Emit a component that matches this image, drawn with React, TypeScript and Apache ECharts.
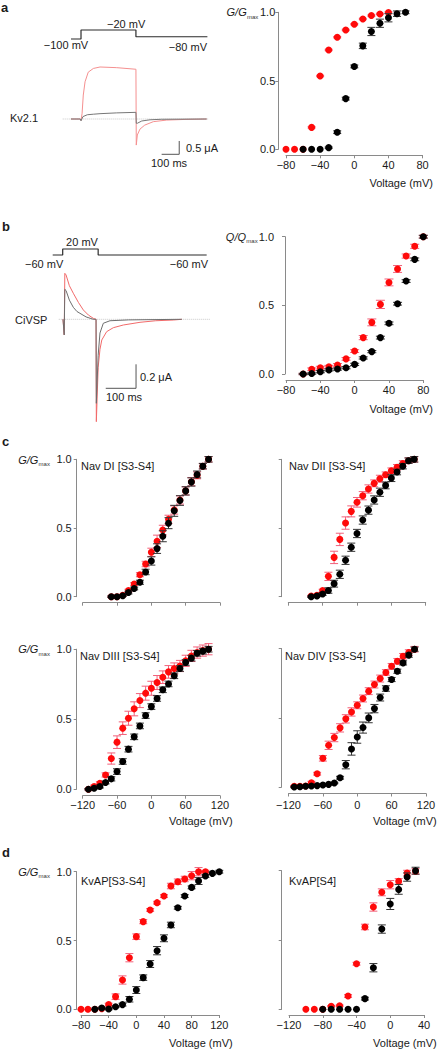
import React, { useEffect, useRef } from "react";
import * as echarts from "echarts";

// ---------- DATA ----------
// Panel a: Kv2.1 G/Gmax
const aRedV = [-80, -70, -60, -50, -40, -30, -20, -10, 0, 10, 20, 30, 40];
const aRedY = [0, 0, 0, 0.16, 0.535, 0.725, 0.818, 0.871, 0.913, 0.951, 0.976, 0.988, 0.998];
const aRedE = [0, 0, 0, 0.005, 0.005, 0.005, 0.005, 0.005, 0.005, 0.005, 0.005, 0.005, 0.005];
const aBlkV = [-60, -50, -40, -30, -20, -10, 0, 10, 20, 30, 40, 50, 60];
const aBlkY = [0, 0, 0, 0.012, 0.125, 0.37, 0.605, 0.755, 0.86, 0.92, 0.96, 0.99, 1.0];
const aBlkE = [0, 0, 0, 0.005, 0.01, 0.01, 0.01, 0.02, 0.03, 0.03, 0.03, 0.02, 0.01];

// Panel b: CiVSP Q/Qmax
const bV = [-60, -50, -40, -30, -20, -10, 0, 10, 20, 30, 40, 50, 60, 70, 80];
const bRedY = [0, 0.034, 0.046, 0.053, 0.066, 0.11, 0.167, 0.265, 0.376, 0.507, 0.667, 0.765, 0.859, 0.93, 1.0];
const bRedE = [0.005, 0.01, 0.01, 0.01, 0.01, 0.01, 0.01, 0.015, 0.025, 0.03, 0.025, 0.025, 0.015, 0.015, 0.01];
const bBlkY = [0, 0.003, 0.017, 0.03, 0.036, 0.046, 0.07, 0.117, 0.163, 0.265, 0.369, 0.512, 0.677, 0.835, 1.0];
const bBlkE = [0.005, 0.005, 0.008, 0.008, 0.008, 0.008, 0.008, 0.008, 0.008, 0.01, 0.01, 0.01, 0.01, 0.01, 0.01];

// Panel c1: Nav DI
const c1V = [-70, -60, -50, -40, -30, -20, -10, 0, 10, 20, 30, 40, 50, 60, 70, 80, 90, 100];
const c1RedY = [0, 0, 0.01, 0.044, 0.092, 0.16, 0.238, 0.323, 0.403, 0.485, 0.563, 0.631, 0.704, 0.77, 0.837, 0.883, 0.95, 1.0];
const c1RedE = [0.005, 0.005, 0.005, 0.01, 0.01, 0.015, 0.02, 0.03, 0.045, 0.035, 0.03, 0.03, 0.03, 0.03, 0.03, 0.025, 0.02, 0.02];
const c1BlkY = [0, 0, 0.007, 0.03, 0.06, 0.105, 0.18, 0.26, 0.35, 0.44, 0.535, 0.625, 0.7, 0.77, 0.835, 0.89, 0.95, 1.0];
const c1BlkE = [0.005, 0.005, 0.005, 0.01, 0.01, 0.015, 0.02, 0.03, 0.035, 0.04, 0.04, 0.04, 0.035, 0.03, 0.03, 0.025, 0.02, 0.02];

// Panel c2: Nav DII
const c2V = [-80, -70, -60, -50, -40, -30, -20, -10, 0, 10, 20, 30, 40, 50, 60, 70, 80, 90, 100];
const c2RedY = [0.005, 0.01, 0.044, 0.148, 0.286, 0.417, 0.536, 0.621, 0.687, 0.735, 0.784, 0.825, 0.859, 0.888, 0.917, 0.942, 0.97, 0.99, 1.0];
const c2RedE = [0.005, 0.005, 0.01, 0.03, 0.045, 0.045, 0.045, 0.04, 0.035, 0.03, 0.03, 0.025, 0.025, 0.02, 0.02, 0.02, 0.02, 0.02, 0.02];
const c2BlkY = [0, 0.005, 0.02, 0.045, 0.095, 0.163, 0.265, 0.36, 0.46, 0.558, 0.63, 0.704, 0.76, 0.81, 0.863, 0.907, 0.95, 0.99, 1.0];
const c2BlkE = [0.005, 0.005, 0.01, 0.02, 0.025, 0.03, 0.03, 0.03, 0.03, 0.03, 0.03, 0.03, 0.03, 0.025, 0.025, 0.02, 0.02, 0.02, 0.02];

// Panel c3: Nav DIII
const c3V = [-110, -100, -90, -80, -70, -60, -50, -40, -30, -20, -10, 0, 10, 20, 30, 40, 50, 60, 70, 80, 90, 100];
const c3RedY = [0, 0.019, 0.043, 0.102, 0.219, 0.336, 0.436, 0.507, 0.574, 0.633, 0.686, 0.721, 0.762, 0.8, 0.838, 0.862, 0.88, 0.917, 0.952, 0.976, 0.99, 1.0];
const c3RedE = [0.005, 0.01, 0.01, 0.015, 0.04, 0.045, 0.045, 0.05, 0.05, 0.05, 0.05, 0.05, 0.05, 0.045, 0.045, 0.04, 0.04, 0.04, 0.04, 0.04, 0.04, 0.04];
const c3BlkY = [0, 0.007, 0.019, 0.048, 0.074, 0.126, 0.198, 0.286, 0.374, 0.452, 0.526, 0.59, 0.648, 0.71, 0.752, 0.81, 0.862, 0.905, 0.936, 0.971, 0.986, 1.0];
const c3BlkE = [0.005, 0.005, 0.01, 0.01, 0.015, 0.02, 0.02, 0.02, 0.02, 0.02, 0.02, 0.02, 0.02, 0.02, 0.02, 0.02, 0.02, 0.02, 0.02, 0.02, 0.02, 0.02];

// Panel c4: Nav DIV
const c4V = [-110, -100, -90, -80, -70, -60, -50, -40, -30, -20, -10, 0, 10, 20, 30, 40, 50, 60, 70, 80, 90, 100];
const c4RedY = [0.005, 0.005, 0.007, 0.031, 0.096, 0.207, 0.301, 0.357, 0.427, 0.492, 0.542, 0.59, 0.639, 0.692, 0.74, 0.783, 0.827, 0.872, 0.908, 0.944, 0.971, 0.995];
const c4RedE = [0.005, 0.005, 0.005, 0.01, 0.01, 0.02, 0.03, 0.03, 0.03, 0.03, 0.03, 0.025, 0.025, 0.025, 0.025, 0.025, 0.02, 0.02, 0.02, 0.02, 0.02, 0.02];
const c4BlkY = [0, 0.002, 0.005, 0.007, 0.01, 0.014, 0.019, 0.029, 0.067, 0.161, 0.275, 0.361, 0.429, 0.499, 0.566, 0.646, 0.711, 0.776, 0.836, 0.896, 0.952, 0.995];
const c4BlkE = [0.005, 0.005, 0.005, 0.005, 0.005, 0.005, 0.005, 0.005, 0.01, 0.03, 0.045, 0.045, 0.04, 0.035, 0.03, 0.025, 0.02, 0.015, 0.015, 0.015, 0.015, 0.015];

// Panel d1: KvAP[S3-S4]
const d1RedV = [-80, -70, -60, -50, -40, -30, -20, -10, 0, 10, 20, 30, 40, 50, 60, 70, 80, 90, 100];
const d1RedY = [0, 0, 0, 0.005, 0.034, 0.092, 0.213, 0.375, 0.528, 0.637, 0.722, 0.775, 0.823, 0.896, 0.927, 0.947, 0.971, 1.0, 1.0];
const d1RedE = [0, 0, 0, 0, 0.01, 0.02, 0.03, 0.03, 0.02, 0.015, 0.01, 0.01, 0.01, 0.02, 0.02, 0.02, 0.03, 0.03, 0.01];
const d1BlkV = [-60, -50, -40, -30, -20, -10, 0, 10, 20, 30, 40, 50, 60, 70, 80, 90, 100, 110, 120];
const d1BlkY = [0, 0.01, 0.002, 0.019, 0.034, 0.073, 0.14, 0.23, 0.329, 0.426, 0.516, 0.613, 0.738, 0.823, 0.886, 0.932, 0.969, 0.988, 1.0];
const d1BlkE = [0, 0.005, 0.005, 0.005, 0.01, 0.02, 0.025, 0.02, 0.025, 0.03, 0.025, 0.02, 0.01, 0.01, 0.01, 0.025, 0.01, 0.01, 0.01];

// Panel d2: KvAP[S4]
const d2RedV = [-100, -90, -80, -70, -60, -50, -40, -30, -20, -10, 0, 10, 20, 30];
const d2RedY = [0, 0, 0, 0.022, 0.026, 0.096, 0.329, 0.594, 0.738, 0.844, 0.899, 0.923, 0.983, 0.995];
const d2RedE = [0, 0, 0, 0.005, 0.005, 0.01, 0.01, 0.02, 0.03, 0.025, 0.03, 0.02, 0.02, 0.02];
const d2BlkV = [-80, -70, -60, -50, -40, -30, -20, -10, 0, 10, 20, 30];
const d2BlkY = [0, 0, 0, 0, 0, 0.077, 0.3, 0.579, 0.76, 0.865, 0.954, 1.0];
const d2BlkE = [0, 0, 0, 0, 0, 0.01, 0.03, 0.03, 0.04, 0.035, 0.03, 0.025];

// Traces, panel a (time ms, voltage mV / current µA)
const aProtoT = [47, 104, 104, 416, 416, 822];
const aProtoV = [-100, -100, -20, -20, -80, -80];
const aRedT = [47, 100, 104, 110, 117, 127, 145, 174, 212, 307, 416, 418, 424, 439, 466, 515, 591, 700, 818];
const aRedI = [0, 0, -0.05, 0.2, 0.9, 1.4, 1.76, 1.9, 1.955, 1.93, 1.87, -0.98, -0.6, -0.38, -0.23, -0.1, -0.04, -0.015, 0];
const aBlkT = [47, 100, 104, 115, 140, 174, 212, 307, 416, 418, 424, 449, 496, 560, 818];
const aBlkI = [0, 0, -0.07, 0.09, 0.16, 0.18, 0.2, 0.23, 0.25, -0.16, -0.16, -0.075, -0.03, -0.01, 0];
const aBaseT = [0, 830];
const aBarT = [562, 662, 662];
const aBarI = [-1.327, -1.327, -0.827];

// Traces, panel b
const bProtoT = [0, 33, 33, 150, 150, 508];
const bProtoV = [-60, -60, 20, 20, -60, -60];
const bRedT = [34, 36, 38, 40, 44, 55, 68, 85, 101, 118, 134, 143, 144, 150, 156, 162, 178, 200, 233, 288, 340, 398, 426];
const bRedI = [0, 0, -0.13, 0.383, 0.37, 0.28, 0.217, 0.14, 0.078, 0.035, 0.008, 0, -0.853, -0.4, -0.25, -0.172, -0.103, -0.07, -0.0475, -0.025, -0.012, -0.006, 0];
const bBlkT = [34, 36, 38, 40, 44, 55, 68, 80, 90, 110, 134, 143, 144, 150, 156, 167, 189, 250, 426];
const bBlkI = [0, 0, -0.13, 0.25, 0.24, 0.16, 0.1, 0.065, 0.05, 0.02, 0, 0, -0.7, -0.3, -0.114, -0.033, -0.012, -0.005, 0];
const bBaseT = [20, 520];
const bBarT = [175, 275, 275];
const bBarI = [-0.575, -0.575, -0.375];

// ---------- STYLE ----------
const RED = "#ff0a0a";
const RED_ERR = "#f2607a";
const BLK = "#000000";
const BLK_ERR = "#333333";
const AXIS = "#8a8a8a";
const TXT = "#1a1a1a";
const FF = '"Liberation Sans", Arial, Helvetica, sans-serif';

const pairs = (x: number[], y: number[]) => x.map((v, i) => [v, y[i]]);
const triples = (x: number[], y: number[], e: number[]) => x.map((v, i) => [v, y[i], e[i]]);
const minus = (v: number) => (v < 0 ? "\u2212" + Math.abs(v) : String(v));

export default function App() {
  const ref = useRef<HTMLDivElement>(null);

  useEffect(() => {
    if (!ref.current) return;
    const chart = echarts.init(ref.current, undefined, { renderer: "svg" });

    type Plot = {
      rect: [number, number, number, number];
      xr: [number, number, number];
      xOff: number;
      xLab: boolean;
      xMargin: number;
      yOff: number;
      yLab: boolean;
      yMargin: number;
      red: [number[], number[], number[]];
      blk: [number[], number[], number[]];
      cap: number;
    };

    const plots: Plot[] = [
      { rect: [286, 12.3, 136.6, 137], xr: [-80, 80, 40], xOff: 6, xLab: true, xMargin: 4, yOff: 7.7, yLab: true, yMargin: 3,
        red: [aRedV, aRedY, aRedE], blk: [aBlkV, aBlkY, aBlkE], cap: 4 },
      { rect: [286, 236.7, 137.3, 137.3], xr: [-80, 80, 40], xOff: 6, xLab: true, xMargin: 4, yOff: 1, yLab: true, yMargin: 11,
        red: [bV, bRedY, bRedE], blk: [bV, bBlkY, bBlkE], cap: 4.5 },
      { rect: [82.7, 459.3, 137.3, 137.4], xr: [-120, 120, 60], xOff: 6, xLab: false, xMargin: 4, yOff: 6, yLab: true, yMargin: 5,
        red: [c1V, c1RedY, c1RedE], blk: [c1V, c1BlkY, c1BlkE], cap: 4 },
      { rect: [288.3, 459.3, 137.4, 137.4], xr: [-120, 120, 60], xOff: 6, xLab: false, xMargin: 4, yOff: 6.6, yLab: false, yMargin: 5,
        red: [c2V, c2RedY, c2RedE], blk: [c2V, c2BlkY, c2BlkE], cap: 4 },
      { rect: [82.7, 649.2, 137.3, 140], xr: [-120, 120, 60], xOff: 6.5, xLab: true, xMargin: 4, yOff: 6, yLab: true, yMargin: 5,
        red: [c3V, c3RedY, c3RedE], blk: [c3V, c3BlkY, c3BlkE], cap: 4 },
      { rect: [288.5, 648.5, 137.5, 138.5], xr: [-120, 120, 60], xOff: 6.5, xLab: true, xMargin: 6, yOff: 6.8, yLab: false, yMargin: 5,
        red: [c4V, c4RedY, c4RedE], blk: [c4V, c4BlkY, c4BlkE], cap: 4 },
      { rect: [81, 871.7, 138.3, 137.6], xr: [-80, 120, 40], xOff: 5.7, xLab: true, xMargin: 4.5, yOff: 4.3, yLab: true, yMargin: 5,
        red: [d1RedV, d1RedY, d1RedE], blk: [d1BlkV, d1BlkY, d1BlkE], cap: 4 },
      { rect: [289, 870.7, 135, 138.6], xr: [-120, 40, 40], xOff: 5.7, xLab: true, xMargin: 4.5, yOff: 7.3, yLab: false, yMargin: 5,
        red: [d2RedV, d2RedY, d2RedE], blk: [d2BlkV, d2BlkY, d2BlkE], cap: 4 },
    ];

    const grids: any[] = [];
    const xAxes: any[] = [];
    const yAxes: any[] = [];
    const series: any[] = [];

    const errRender = (color: string, cap: number) => (params: any, api: any) => {
      const x = api.value(0);
      const y = api.value(1);
      const e = api.value(2);
      if (!e) return { type: "group", children: [] };
      const t = api.coord([x, y + e]);
      const b = api.coord([x, y - e]);
      const st = { stroke: color, lineWidth: 1 };
      return {
        type: "group",
        children: [
          { type: "line", shape: { x1: t[0], y1: t[1], x2: b[0], y2: b[1] }, style: st },
          { type: "line", shape: { x1: t[0] - cap, y1: t[1], x2: t[0] + cap, y2: t[1] }, style: st },
          { type: "line", shape: { x1: b[0] - cap, y1: b[1], x2: b[0] + cap, y2: b[1] }, style: st },
        ],
      };
    };

    plots.forEach((p, i) => {
      grids.push({ left: p.rect[0], top: p.rect[1], width: p.rect[2], height: p.rect[3], containLabel: false });
      xAxes.push({
        type: "value", gridIndex: i, min: p.xr[0], max: p.xr[1], interval: p.xr[2], offset: p.xOff,
        axisLine: { show: true, onZero: false, lineStyle: { color: AXIS, width: 1 } },
        axisTick: { show: true, length: 3, lineStyle: { color: AXIS, width: 1 } },
        axisLabel: { show: p.xLab, margin: p.xMargin, color: TXT, fontSize: 11, fontFamily: FF, formatter: minus },
        splitLine: { show: false },
      });
      yAxes.push({
        type: "value", gridIndex: i, min: 0, max: 1, interval: 0.5, offset: p.yOff,
        axisLine: { show: true, onZero: false, lineStyle: { color: AXIS, width: 1 } },
        axisTick: { show: true, length: 3, lineStyle: { color: AXIS, width: 1 } },
        axisLabel: { show: p.yLab, margin: p.yMargin, color: TXT, fontSize: 11, fontFamily: FF, formatter: (v: number) => v.toFixed(1) },
        splitLine: { show: false },
      });
      series.push({
        type: "custom", xAxisIndex: i, yAxisIndex: i, renderItem: errRender(RED_ERR, p.cap),
        data: triples(p.red[0], p.red[1], p.red[2]), encode: { x: 0, y: 1 }, z: 2, silent: true,
      });
      series.push({
        type: "scatter", xAxisIndex: i, yAxisIndex: i, symbol: "circle", symbolSize: 7,
        itemStyle: { color: RED, opacity: 1 }, data: pairs(p.red[0], p.red[1]), z: 3, clip: false,
      });
      series.push({
        type: "custom", xAxisIndex: i, yAxisIndex: i, renderItem: errRender(BLK_ERR, p.cap),
        data: triples(p.blk[0], p.blk[1], p.blk[2]), encode: { x: 0, y: 1 }, z: 4, silent: true,
      });
      series.push({
        type: "scatter", xAxisIndex: i, yAxisIndex: i, symbol: "circle", symbolSize: 7,
        itemStyle: { color: BLK, opacity: 1 }, data: pairs(p.blk[0], p.blk[1]), z: 5, clip: false,
      });
    });

    // trace grids
    const hiddenX = (gi: number, min: number, max: number) => ({ type: "value", gridIndex: gi, min, max, show: false, splitLine: { show: false } });
    const hiddenY = (gi: number, min: number, max: number) => ({ type: "value", gridIndex: gi, min, max, show: false, splitLine: { show: false } });
    const lineS = (gi: number, data: number[][], color: string, width: number, type: string = "solid", z = 3) => ({
      type: "line", xAxisIndex: gi, yAxisIndex: gi, data, showSymbol: false, symbol: "none", clip: false,
      lineStyle: { color, width, type }, z, silent: true, animation: false,
    });

    // a protocol
    let gi = grids.length;
    grids.push({ left: 62.7, top: 30, width: 146.1, height: 9 });
    xAxes.push(hiddenX(gi, 0, 830));
    yAxes.push(hiddenY(gi, -100, -20));
    series.push(lineS(gi, pairs(aProtoT, aProtoV), "#2b2b2b", 1.2));
    // a current
    gi = grids.length;
    grids.push({ left: 62.7, top: 52.5, width: 146.1, height: 106.4 });
    xAxes.push(hiddenX(gi, 0, 830));
    yAxes.push(hiddenY(gi, -1.5, 2.5));
    series.push(lineS(gi, pairs(aBaseT, [0, 0]), "#c8c8c8", 1, "dotted", 1));
    series.push(lineS(gi, pairs(aBlkT, aBlkI), "#777777", 1, "solid", 3));
    series.push(lineS(gi, pairs(aRedT, aRedI), "#f59090", 1, "solid", 2));
    series.push(lineS(gi, pairs(aBarT, aBarI), "#555555", 1));

    // b protocol
    gi = grids.length;
    grids.push({ left: 52.7, top: 249, width: 157.6, height: 6 });
    xAxes.push(hiddenX(gi, 0, 520));
    yAxes.push(hiddenY(gi, -60, 20));
    series.push(lineS(gi, pairs(bProtoT, bProtoV), "#2b2b2b", 1.2));
    // b current
    gi = grids.length;
    grids.push({ left: 52.7, top: 259.3, width: 157.6, height: 180 });
    xAxes.push(hiddenX(gi, 0, 520));
    yAxes.push(hiddenY(gi, -1.0, 0.5));
    series.push(lineS(gi, pairs(bBaseT, [0, 0]), "#c8c8c8", 1, "dotted", 1));
    series.push(lineS(gi, pairs(bRedT, bRedI), "#f26a6a", 1, "solid", 2));
    series.push(lineS(gi, pairs(bBlkT, bBlkI), "#6e6e6e", 1, "solid", 3));
    series.push(lineS(gi, pairs(bBarT, bBarI), "#555555", 1));

    const font = (size: number, extra = "") => `${extra}${size}px ${FF}`;
    const txt = (text: string, x: number, y: number, align = "left", size = 11, extra = "", fill = TXT) => ({
      type: "text", x, y, silent: true,
      style: { text, font: font(size, extra), fill, align, verticalAlign: "middle" },
    });
    const gmax = (main: string, xr: number, y: number) => [
      txt(main, xr, y, "right", 11, "italic "),
      txt("max", xr + 0.3, y + 4.5, "left", 6, "", "#333"),
    ];

    const graphics: any[] = [
      txt("a", 1, 7.5, "left", 13, "bold "),
      txt("b", 2, 226.7, "left", 13, "bold "),
      txt("c", 2, 441.5, "left", 13, "bold "),
      txt("d", 2, 852, "left", 13, "bold "),
      // panel a
      txt("\u221220 mV", 107, 24),
      txt("\u2212100 mV", 66, 45, "center"),
      txt("\u221280 mV", 207, 46.5, "right"),
      txt("Kv2.1", 10, 118),
      txt("0.5 \u03bcA", 186, 147.5),
      txt("100 ms", 151, 163),
      ...gmax("G/G", 246.7, 12.3),
      txt("Voltage (mV)", 433, 183.3, "right"),
      // panel b
      txt("20 mV", 82, 242, "center"),
      txt("\u221260 mV", 25, 264),
      txt("\u221260 mV", 208, 264, "right"),
      txt("CiVSP", 15, 320),
      txt("0.2 \u03bcA", 140, 377),
      txt("100 ms", 106, 397),
      ...gmax("Q/Q", 246, 236.7),
      txt("Voltage (mV)", 433, 409, "right"),
      // panel c
      ...gmax("G/G", 38.3, 459.5),
      ...gmax("G/G", 38.3, 649.3),
      txt("Nav DI [S3-S4]", 81, 465.7),
      txt("Nav DII [S3-S4]", 289, 465.7),
      txt("Nav DIII [S3-S4]", 80, 655.7),
      txt("Nav DIV [S3-S4]", 285, 655.7),
      txt("Voltage (mV)", 232.7, 821, "right"),
      txt("Voltage (mV)", 436.7, 821, "right"),
      // panel d
      ...gmax("G/G", 38.3, 871.7),
      txt("KvAP[S3-S4]", 81, 881),
      txt("KvAP[S4]", 289, 881),
      txt("Voltage (mV)", 232.7, 1043.3, "right"),
      txt("Voltage (mV)", 436.7, 1043.3, "right"),
    ];

    chart.setOption({
      animation: false,
      backgroundColor: "#ffffff",
      textStyle: { fontFamily: FF },
      grid: grids,
      xAxis: xAxes,
      yAxis: yAxes,
      series,
      graphic: graphics,
    });

    return () => chart.dispose();
  }, []);

  return (
    <div
      ref={ref}
      style={{ position: "absolute", left: 0, top: 0, width: 439, height: 1050, background: "#fff" }}
    />
  );
}
